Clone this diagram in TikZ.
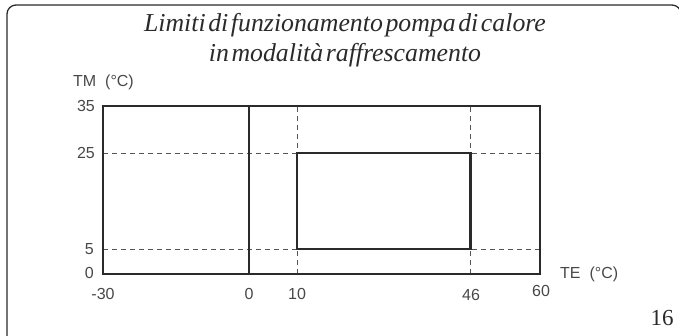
\documentclass[tikz,border=0pt]{standalone}
\usepackage{fontspec}
\setmainfont{Liberation Serif}
\setsansfont{Liberation Sans}
\definecolor{ink}{HTML}{2A2A2A}
\definecolor{lab}{HTML}{484848}
\newcommand\tightsp{\spaceskip=0.1em plus 0.02em\relax}
\begin{document}
\begin{tikzpicture}[x=1pt,y=-1pt,
  frame/.style={draw=ink,line width=1.4pt},
  grid/.style={draw=ink!80,line width=0.9pt,dash pattern=on 5pt off 4pt},
  zone/.style={draw=ink,line width=2.2pt},
  axlab/.style={font=\sffamily\fontsize{16}{18}\selectfont,text=lab,inner sep=0pt},
  ttl/.style={font=\itshape\fontsize{25.8}{30}\selectfont,text=ink,align=center,inner sep=0pt}]
\useasboundingbox (0,0) rectangle (679,335);
\begin{scope}
\clip (0,0) rectangle (679,335);
\draw[draw=ink,line width=1.3pt,rounded corners=9pt] (7,5) rectangle (681,345);
\end{scope}
% title
\node[ttl] (title) at (345,40) {\tightsp Limiti di funzionamento pompa di calore\\\tightsp in modalità raffrescamento};
% coordinates
\coordinate (bl) at (103,274);
\coordinate (tr) at (540,106);
\coordinate (z0) at (249,274);
\coordinate (z1) at (249,106);
\coordinate (a0) at (297,274);
\coordinate (a1) at (297,106);
\coordinate (b0) at (470.5,274);
\coordinate (b1) at (470.5,106);
\coordinate (c0) at (103,153);
\coordinate (c1) at (540,153);
\coordinate (d0) at (103,249);
\coordinate (d1) at (540,249);
\coordinate (r1) at (297,249);
\coordinate (r2) at (470.5,153);
% dashed grid
\draw[grid] (a0) -- (a1);
\draw[grid] (b0) -- (b1);
\draw[grid] (c0) -- (c1);
\draw[grid] (d0) -- (d1);
% axis frame
\draw[frame] (bl) rectangle (tr);
\draw[draw=ink,line width=1.1pt] (z0) -- (z1);
% zone
\draw[zone] (r1) rectangle (r2);
% labels
\node[axlab,anchor=west] (tm) at (73,82) {TM\ \ (°C)};
\node[axlab,anchor=east] (y35) at (95,106) {35};
\node[axlab,anchor=east] (y25) at (95,153) {25};
\node[axlab,anchor=east] (y5) at (94,249) {5};
\node[axlab,anchor=east] (y0) at (94,273) {0};
\node[axlab] (xm30) at (103,294) {-30};
\node[axlab] (x0) at (249,294) {0};
\node[axlab] (x10) at (297,294) {10};
\node[axlab] (x46) at (471,294.5) {46};
\node[axlab] (x60) at (541,291) {60};
\node[axlab,anchor=west] (te) at (560,274) {TE\ \ (°C)};
\node[font=\fontsize{23}{24}\selectfont,text=ink,inner sep=0pt] (pg) at (662,318) {16};
\end{tikzpicture}
\end{document}
